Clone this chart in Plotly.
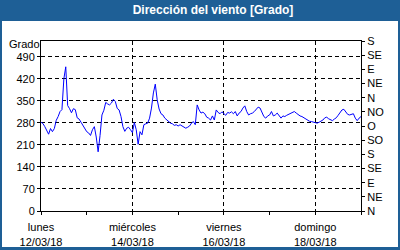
import plotly.graph_objects as go
import pandas as pd

# ---- data (hourly wind direction, degrees) ----
start = "2018-03-12 00:00"
direction = [
    282, 278, 268, 258, 244, 262, 252, 262, 288, 300, 316, 322, 420, 458, 335, 325,
    312, 325, 322, 296, 292, 282, 272, 262, 252, 248, 240, 258, 268, 235, 188, 240,
    305, 320, 345, 340, 337, 343, 355, 348, 326, 321, 300, 268, 253, 263, 266, 258,
    249, 281, 258, 212, 252, 242, 274, 277, 279, 295, 327, 375, 403, 353, 324, 309,
    305, 295, 289, 283, 279, 277, 272, 274, 270, 274, 270, 266, 263, 266, 270, 279,
    284, 274, 337, 321, 311, 314, 309, 298, 295, 289, 302, 289, 321, 313, 309, 315,
    309, 304, 313, 311, 315, 309, 316, 302, 311, 316, 327, 334, 316, 305, 309, 311,
    316, 323, 330, 327, 313, 300, 295, 302, 305, 316, 302, 305, 311, 302, 295, 302,
    300, 304, 307, 311, 315, 316, 311, 305, 302, 300, 296, 291, 287, 285, 284, 282,
    281, 279, 282, 285, 289, 296, 298, 293, 289, 287, 292, 296, 304, 313, 321, 323,
    313, 307, 305, 307, 309, 295, 287, 295, 300,
]
times = pd.date_range(start, periods=len(direction), freq="h")

left_ticks = [0, 70, 140, 210, 280, 350, 420, 490]
right_vals = [0, 45, 90, 135, 180, 225, 270, 315, 360, 405, 450, 495, 540]
right_text = ["N", "NE", "E", "SE", "S", "SO", "O", "NO", "N", "NE", "E", "SE", "S"]
x_tick_dates = ["2018-03-12", "2018-03-14", "2018-03-16", "2018-03-18"]
x_tick_text = ["lunes<br>12/03/18", "miércoles<br>14/03/18", "viernes<br>16/03/18", "domingo<br>18/03/18"]
day_ticks = pd.date_range("2018-03-12", "2018-03-19", freq="D")

title_text = "Dirección del viento [Grado]"
unit_text = "Grado"

# ---- layout geometry (pixels) ----
W, H = 400, 250
L, R, T, B = 41, 39, 41, 39
pw, ph = W - L - R, H - T - B


def px(xp):
    return (xp - L) / pw


def py(yp):
    return (H - B - yp) / ph


BLUE = "#1e5f96"
FONT = "Liberation Sans"

fig = go.Figure()
fig.add_trace(go.Scatter(x=times, y=direction, mode="lines",
                         line=dict(color="#0000ff", width=1), hoverinfo="skip",
                         showlegend=False))
# invisible trace for the right axis
fig.add_trace(go.Scatter(x=[times[0]], y=[0], yaxis="y2", mode="markers",
                         marker=dict(opacity=0), showlegend=False, hoverinfo="skip"))

fig.update_layout(
    width=W, height=H,
    margin=dict(l=L, r=R, t=T, b=B, pad=0, autoexpand=False),
    paper_bgcolor=BLUE,
    plot_bgcolor="white",
    font=dict(family=FONT, size=11, color="black"),
    title=dict(text=title_text, x=213 / W, xanchor="center", y=1 - 10 / H, yanchor="middle",
               xref="container", yref="container", automargin=False,
               font=dict(family=FONT, size=12, color="white", weight="bold")),
    xaxis=dict(
        type="date", range=["2018-03-12 00:00", "2018-03-19 00:00"],
        tickmode="array", tickvals=x_tick_dates, ticktext=x_tick_text,
        showline=True, linecolor="black", linewidth=1, mirror=True,
        ticks="outside", ticklen=3, tickcolor="black", ticklabelstandoff=3,
        showgrid=True, gridcolor="black", gridwidth=1, griddash="4px,3px",
        minor=dict(tickmode="array", tickvals=list(day_ticks), ticks="outside",
                   ticklen=3, tickcolor="black", showgrid=False),
        zeroline=False, fixedrange=True, automargin=False,
    ),
    yaxis=dict(
        range=[0, 540], tickmode="array", tickvals=left_ticks,
        showline=True, linecolor="black", linewidth=1, mirror=True,
        ticks="outside", ticklen=3, tickcolor="black",
        showgrid=True, gridcolor="black", gridwidth=1, griddash="4px,3px",
        zeroline=False, fixedrange=True, automargin=False,
    ),
    yaxis2=dict(
        range=[0, 540], overlaying="y", side="right", tickmode="array",
        tickvals=right_vals, ticktext=right_text,
        showline=True, linecolor="black", linewidth=1,
        ticks="outside", ticklen=3, tickcolor="black",
        showgrid=False, zeroline=False, fixedrange=True, automargin=False,
    ),
    shapes=[
        dict(type="rect", xref="paper", yref="paper", layer="below",
             x0=px(2), x1=px(398), y0=py(247), y1=py(21),
             fillcolor="white", line=dict(width=0)),
    ],
    annotations=[
        dict(text=unit_text, xref="paper", yref="paper", x=px(7), y=py(44),
             xanchor="left", yanchor="middle", showarrow=False,
             font=dict(family=FONT, size=11, color="black")),
    ],
)

fig.write_html("out.html", config={"displayModeBar": False})
